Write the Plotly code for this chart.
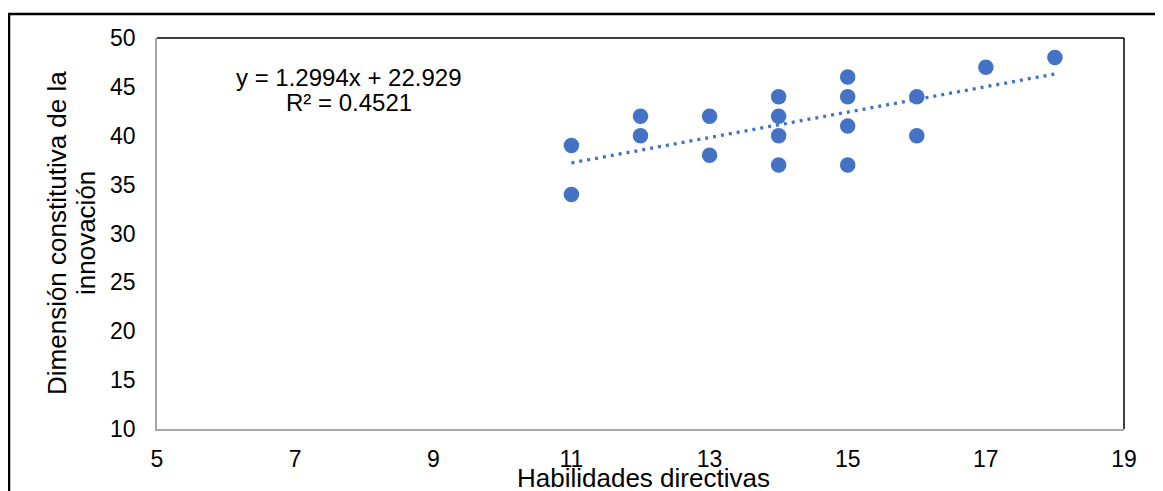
import numpy as np
import plotly.graph_objects as go

# Data
habilidades = [11, 11, 12, 12, 13, 13, 14, 14, 14, 14, 15, 15, 15, 15, 16, 16, 17, 18]
dimension = [39, 34, 42, 40, 42, 38, 44, 42, 40, 37, 46, 44, 41, 37, 44, 40, 47, 48]

# Reported trendline
slope = 1.2994
intercept = 22.929
r2 = 0.4521

x_ticks = [5, 7, 9, 11, 13, 15, 17, 19]
y_ticks = [10, 15, 20, 25, 30, 35, 40, 45, 50]

x_title = "Habilidades directivas"
y_title_lines = ["Dimensión constitutiva de la", "innovación"]

COLOR = "#4472C4"
FONT = "Arial, Liberation Sans, sans-serif"

trend_x = np.array([min(habilidades), max(habilidades)], dtype=float)
trend_y = slope * trend_x + intercept

fig = go.Figure()
fig.add_trace(go.Scatter(
    x=trend_x, y=trend_y, mode="lines",
    line=dict(color=COLOR, width=3.3, dash="3px,5px"),
    hoverinfo="skip", showlegend=False,
))
fig.add_trace(go.Scatter(
    x=habilidades, y=dimension, mode="markers",
    marker=dict(color=COLOR, size=15.5, line=dict(width=0)),
    showlegend=False,
))

# page offset (browser body margin)
OFF = 8
W, H = 1163 - OFF, 491 - OFF
# plot area in page pixels: left 157, top 38, right 1124, bottom 429
L, T = 157 - OFF, 38 - OFF
R = W - (1124 - OFF)
B = H - (429 - OFF)
pw, ph = W - L - R, H - T - B

def px_x(p):  # page pixel -> paper
    return (p - OFF - L) / pw

def px_y(p):
    return (H - B - (p - OFF)) / ph

fig.update_layout(
    width=W, height=H,
    margin=dict(l=L, r=R, t=T, b=B, pad=0),
    paper_bgcolor="white", plot_bgcolor="white",
    font=dict(family=FONT, size=23, color="black"),
    xaxis=dict(
        range=[5, 19], tickvals=x_ticks, showgrid=False, zeroline=False,
        showline=True, linecolor="#A6A6A6", linewidth=1.5,
        ticks="", ticklabelstandoff=9,
        tickfont=dict(size=23),
    ),
    yaxis=dict(
        range=[10, 50], tickvals=y_ticks, showgrid=False, zeroline=False,
        showline=True, linecolor="#A6A6A6", linewidth=1.5,
        ticks="", ticklabelstandoff=15,
        tickfont=dict(size=23),
    ),
    shapes=[
        dict(type="line", xref="paper", yref="paper", x0=0, x1=1, y0=1, y1=1,
             line=dict(color="black", width=1.5)),
        dict(type="line", xref="paper", yref="paper", x0=1, x1=1, y0=0, y1=1,
             line=dict(color="black", width=1.5)),
        dict(type="line", xref="paper", yref="paper", x0=px_x(8), x1=px_x(1200), y0=px_y(14), y1=px_y(14),
             line=dict(color="black", width=2.5)),
        dict(type="line", xref="paper", yref="paper", x0=px_x(9), x1=px_x(9), y0=px_y(13), y1=px_y(520),
             line=dict(color="black", width=2.5)),
    ],
    annotations=[
        dict(xref="paper", yref="paper", x=px_x(349), y=px_y(77), xanchor="center", yanchor="middle",
             text=f"y = {slope}x + {intercept}", showarrow=False,
             font=dict(size=24, family=FONT)),
        dict(xref="paper", yref="paper", x=px_x(349), y=px_y(102), xanchor="center", yanchor="middle",
             text=f"R² = {r2}", showarrow=False,
             font=dict(size=24, family=FONT)),
        dict(xref="paper", yref="paper", x=px_x(643), y=px_y(478), xanchor="center", yanchor="middle",
             text=x_title, showarrow=False, font=dict(size=26, family=FONT)),
        dict(xref="paper", yref="paper", x=px_x(57), y=px_y(233), xanchor="center", yanchor="middle",
             text=y_title_lines[0], textangle=-90, showarrow=False, font=dict(size=26, family=FONT)),
        dict(xref="paper", yref="paper", x=px_x(86), y=px_y(233), xanchor="center", yanchor="middle",
             text=y_title_lines[1], textangle=-90, showarrow=False, font=dict(size=26, family=FONT)),
    ],
)

fig.write_html("out.html")
